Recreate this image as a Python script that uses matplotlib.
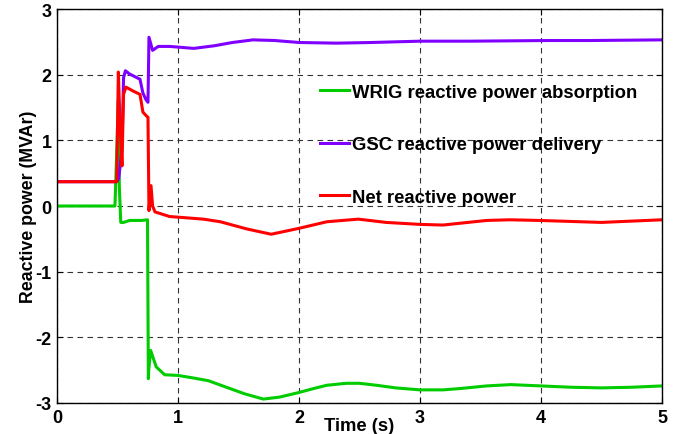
import numpy as np
import matplotlib
matplotlib.use('Agg')
import matplotlib.pyplot as plt

# values (time in s, reactive power in MVAr)
t_wrig = [0, 0.479, 0.495, 0.507, 0.515, 0.527, 0.55, 0.6, 0.7, 0.748, 0.755, 0.758,
          0.774, 0.82, 0.89, 1.0, 1.13, 1.25, 1.4, 1.55, 1.705, 1.84, 2.0, 2.12, 2.23,
          2.39, 2.5, 2.64, 2.8, 3.0, 3.19, 3.33, 3.55, 3.75, 4.0, 4.25, 4.5, 4.75, 5.0]
q_wrig = [0, 0, 0.9, 1.6, 0.3, -0.25, -0.25, -0.22, -0.22, -0.21, -2.63, -2.5,
          -2.2, -2.45, -2.57, -2.58, -2.62, -2.66, -2.76, -2.86, -2.94, -2.91, -2.84, -2.78, -2.73,
          -2.70, -2.70, -2.73, -2.77, -2.80, -2.80, -2.78, -2.74, -2.72, -2.74, -2.76, -2.77, -2.76, -2.74]

t_gsc = [0, 0.493, 0.51, 0.537, 0.55, 0.565, 0.6, 0.686, 0.71, 0.735, 0.752, 0.76,
         0.79, 0.837, 0.93, 1.0, 1.13, 1.3, 1.45, 1.62, 1.8, 2.0, 2.31, 2.6, 3.0, 3.41,
         4.07, 4.4, 5.0]
q_gsc = [0.37, 0.37, 0.42, 0.87, 1.95, 2.06, 2.01, 1.93, 1.72, 1.62, 1.58, 2.57,
         2.37, 2.43, 2.43, 2.42, 2.40, 2.44, 2.49, 2.53, 2.52, 2.49, 2.48, 2.49, 2.51, 2.51,
         2.52, 2.52, 2.53]

t_net = [0, 0.493, 0.507, 0.52, 0.537, 0.55, 0.57, 0.63, 0.686, 0.71, 0.74, 0.752,
         0.76, 0.777, 0.79, 0.81, 0.93, 1.21, 1.35, 1.57, 1.77, 2.0, 2.23, 2.49, 2.72,
         3.0, 3.19, 3.55, 3.74, 3.99, 4.5, 5.0]
q_net = [0.37, 0.37, 2.04, 1.3, 0.61, 1.7, 1.81, 1.75, 1.70, 1.43, 1.37, 1.35,
         -0.07, 0.31, 0.0, -0.09, -0.16, -0.20, -0.24, -0.35, -0.43, -0.34, -0.24, -0.20, -0.25,
         -0.28, -0.29, -0.22, -0.21, -0.22, -0.25, -0.21]

labels = ['WRIG reactive power absorption', 'GSC reactive power delivery', 'Net reactive power']
colors = ['#00cc00', '#7f00ff', '#ff0000']

plt.rcParams['font.family'] = ['Liberation Sans', 'DejaVu Sans']
plt.rcParams['font.weight'] = 'bold'
plt.rcParams['axes.unicode_minus'] = False

fig = plt.figure(figsize=(6.92, 4.35), dpi=100)
ax = fig.add_axes([57/692, 31/435, 605/692, 394/435])

ax.plot(t_wrig, q_wrig, color=colors[0], lw=2.2, label=labels[0])
ax.plot(t_gsc, q_gsc, color=colors[1], lw=2.2, label=labels[1])
ax.plot(t_net, q_net, color=colors[2], lw=2.2, label=labels[2])

ax.set_xlim(0, 5)
ax.set_ylim(-3, 3)
ax.set_xticks(range(0, 6))
ax.set_yticks(range(-3, 4))
ax.grid(True, color='0.2', ls=(0, (5, 4)), lw=0.8)
ax.tick_params(direction='in', top=True, right=True, length=4, width=0.8,
               labelsize=13, pad=4)
for lab in ax.get_xticklabels() + ax.get_yticklabels():
    lab.set_fontweight('bold')
for s in ax.spines.values():
    s.set_linewidth(1.0)

ax.set_xlabel('Time (s)', fontsize=13.3, fontweight='bold', labelpad=-6)
ax.set_ylabel('Reactive power (MVAr)', fontsize=12.8, fontweight='bold', labelpad=-1)

leg = ax.legend(loc='center left', bbox_to_anchor=(0.435, 0.655), frameon=False,
                fontsize=13.3, handlelength=1.57, handletextpad=0.16, labelspacing=1.92,
                borderpad=0, borderaxespad=0)
for txt in leg.get_texts():
    txt.set_fontweight('bold')

fig.savefig('out.png', dpi=100)
